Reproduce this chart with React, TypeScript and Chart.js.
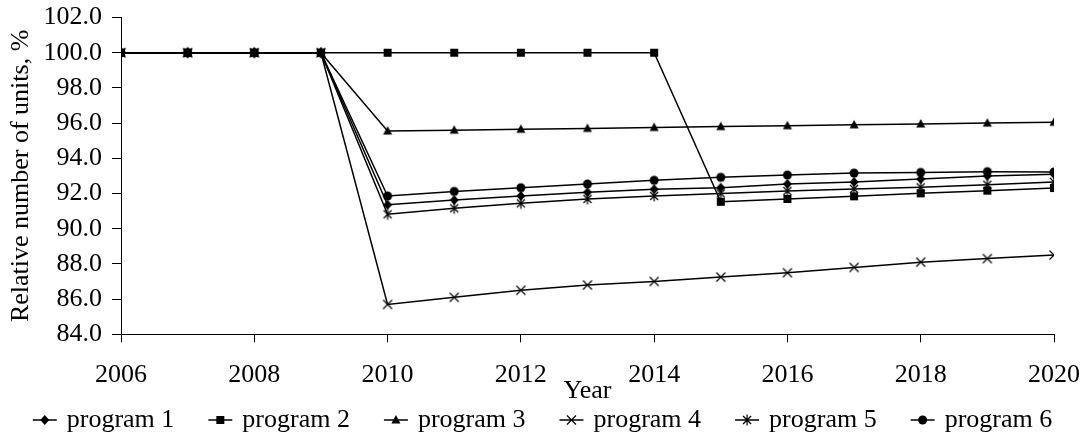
import React, { useEffect, useRef } from "react";
import { Chart, registerables } from "chart.js";

Chart.register(...registerables);

const years = [2006, 2007, 2008, 2009, 2010, 2011, 2012, 2013, 2014, 2015, 2016, 2017, 2018, 2019, 2020];
const xTickYears = [2006, 2008, 2010, 2012, 2014, 2016, 2018, 2020];
const yTickValues = [84, 86, 88, 90, 92, 94, 96, 98, 100, 102];

const seriesNames = ["program 1", "program 2", "program 3", "program 4", "program 5", "program 6"];
const markerKinds = ["diamond", "square", "triangle", "x", "star", "circle"];

const program1 = [100, 100, 100, 100, 91.36, 91.63, 91.86, 92.07, 92.24, 92.33, 92.54, 92.65, 92.82, 93.0, 93.1];
const program2 = [100, 100, 100, 100, 100, 100, 100, 100, 100, 91.53, 91.69, 91.84, 92.01, 92.16, 92.31];
const program3 = [100, 100, 100, 100, 95.55, 95.6, 95.65, 95.7, 95.75, 95.8, 95.85, 95.9, 95.95, 96.0, 96.05];
const program4 = [100, 100, 100, 100, 85.7, 86.1, 86.5, 86.8, 87.0, 87.25, 87.5, 87.8, 88.1, 88.3, 88.5];
const program5 = [100, 100, 100, 100, 90.82, 91.16, 91.44, 91.69, 91.86, 92.0, 92.14, 92.26, 92.35, 92.5, 92.66];
const program6 = [100, 100, 100, 100, 91.86, 92.12, 92.33, 92.54, 92.75, 92.92, 93.05, 93.16, 93.2, 93.24, 93.22];

const seriesValues = [program1, program2, program3, program4, program5, program6];

const FONT = '"Liberation Serif", "Times New Roman", serif';
const FONT_SIZE = 26;

function drawMarker(ctx: CanvasRenderingContext2D, kind: string, cx: number, cy: number) {
  ctx.fillStyle = "#000";
  ctx.strokeStyle = "#000";
  ctx.lineWidth = 1.2;
  ctx.beginPath();
  switch (kind) {
    case "diamond":
      ctx.moveTo(cx, cy - 5);
      ctx.lineTo(cx + 4.5, cy);
      ctx.lineTo(cx, cy + 5);
      ctx.lineTo(cx - 4.5, cy);
      ctx.closePath();
      ctx.fill();
      break;
    case "square":
      ctx.rect(cx - 4, cy - 4, 8, 8);
      ctx.fill();
      break;
    case "triangle":
      ctx.moveTo(cx, cy - 5);
      ctx.lineTo(cx + 4.5, cy + 3.5);
      ctx.lineTo(cx - 4.5, cy + 3.5);
      ctx.closePath();
      ctx.fill();
      break;
    case "x":
      ctx.moveTo(cx - 4.5, cy - 4.5);
      ctx.lineTo(cx + 4.5, cy + 4.5);
      ctx.moveTo(cx + 4.5, cy - 4.5);
      ctx.lineTo(cx - 4.5, cy + 4.5);
      ctx.stroke();
      break;
    case "star":
      ctx.moveTo(cx - 4, cy - 4);
      ctx.lineTo(cx + 4, cy + 4);
      ctx.moveTo(cx + 4, cy - 4);
      ctx.lineTo(cx - 4, cy + 4);
      ctx.moveTo(cx, cy - 5.5);
      ctx.lineTo(cx, cy + 5.5);
      ctx.stroke();
      break;
    case "circle":
      ctx.arc(cx, cy, 4.5, 0, Math.PI * 2);
      ctx.fill();
      break;
  }
}

function makePointImage(kind: string): HTMLCanvasElement {
  const c = document.createElement("canvas");
  c.width = 16;
  c.height = 16;
  const ctx = c.getContext("2d")!;
  drawMarker(ctx, kind, 8, 8);
  return c;
}

const legendPlugin = {
  id: "excelLegend",
  afterDraw(chart: any) {
    const ctx: CanvasRenderingContext2D = chart.ctx;
    ctx.save();
    ctx.font = `${FONT_SIZE}px ${FONT}`;
    ctx.textBaseline = "middle";
    ctx.textAlign = "left";
    const lineLen = 24;
    const gap = 10;
    const itemGap = 34;
    const widths = seriesNames.map((n) => lineLen + gap + ctx.measureText(n).width);
    const total = widths.reduce((a, b) => a + b, 0) + itemGap * (seriesNames.length - 1);
    let x = (chart.width - total) / 2;
    const y = 420;
    seriesNames.forEach((name, i) => {
      ctx.strokeStyle = "#000";
      ctx.lineWidth = 1.5;
      ctx.beginPath();
      ctx.moveTo(x, y);
      ctx.lineTo(x + lineLen, y);
      ctx.stroke();
      drawMarker(ctx, markerKinds[i], x + lineLen / 2, y);
      ctx.fillStyle = "#000";
      ctx.fillText(name, x + lineLen + gap, y);
      x += widths[i] + itemGap;
    });
    ctx.restore();
  },
};

export default function App() {
  const canvasRef = useRef<HTMLCanvasElement | null>(null);

  useEffect(() => {
    document.body.style.margin = "0";
    const canvas = canvasRef.current;
    if (!canvas) return;
    const pointImages = markerKinds.map((k) => makePointImage(k));

    const datasets = seriesNames.map((name, i) => ({
      label: name,
      data: years.map((yr, j) => ({ x: yr, y: seriesValues[i][j] })),
      borderColor: "#000",
      backgroundColor: "#000",
      borderWidth: 1.5,
      pointStyle: pointImages[i],
      pointRadius: 5,
      tension: 0,
      order: seriesNames.length - i,
    }));

    const chart = new Chart(canvas, {
      type: "line",
      data: { datasets },
      plugins: [legendPlugin],
      options: {
        responsive: false,
        animation: false,
        layout: { padding: { left: 0, right: 31, top: 17.5, bottom: 0 } },
        plugins: {
          legend: { display: false },
          tooltip: { enabled: false },
        },
        scales: {
          x: {
            type: "linear",
            min: 2006,
            max: 2020,
            afterBuildTicks: (scale: any) => {
              scale.ticks = xTickYears.map((v) => ({ value: v }));
            },
            afterFit: (scale: any) => {
              scale.height = 106.7;
              scale.paddingLeft = 0;
              scale.paddingRight = 0;
            },
            ticks: {
              color: "#000",
              font: { family: FONT, size: FONT_SIZE },
              padding: 17,
              maxRotation: 0,
              autoSkip: false,
              callback: (v: any) => String(v),
            },
            grid: {
              drawOnChartArea: false,
              drawTicks: true,
              tickLength: 8,
              color: "#000",
              lineWidth: 1,
            },
            border: { color: "#000", width: 1 },
            title: {
              display: true,
              text: "Year",
              color: "#000",
              font: { family: FONT, size: FONT_SIZE },
              padding: { top: 0, bottom: 34 },
            },
          },
          y: {
            min: 84,
            max: 102,
            afterBuildTicks: (scale: any) => {
              scale.ticks = yTickValues.map((v) => ({ value: v }));
            },
            afterFit: (scale: any) => {
              scale.width = 121;
              scale.paddingTop = 0;
              scale.paddingBottom = 0;
            },
            ticks: {
              color: "#000",
              font: { family: FONT, size: FONT_SIZE },
              padding: 10,
              callback: (v: any) => Number(v).toFixed(1),
            },
            grid: {
              drawOnChartArea: false,
              drawTicks: true,
              tickLength: 9,
              color: "#000",
              lineWidth: 1,
            },
            border: { color: "#000", width: 1 },
            title: {
              display: true,
              text: "Relative number of units, %",
              color: "#000",
              font: { family: FONT, size: FONT_SIZE },
              padding: { top: 6, bottom: 0 },
            },
          },
        },
      },
    });

    return () => {
      chart.destroy();
    };
  }, []);

  return (
    <div style={{ width: 1085, height: 441, background: "#fff" }}>
      <canvas ref={canvasRef} width={1085} height={441} style={{ display: "block" }} />
    </div>
  );
}
